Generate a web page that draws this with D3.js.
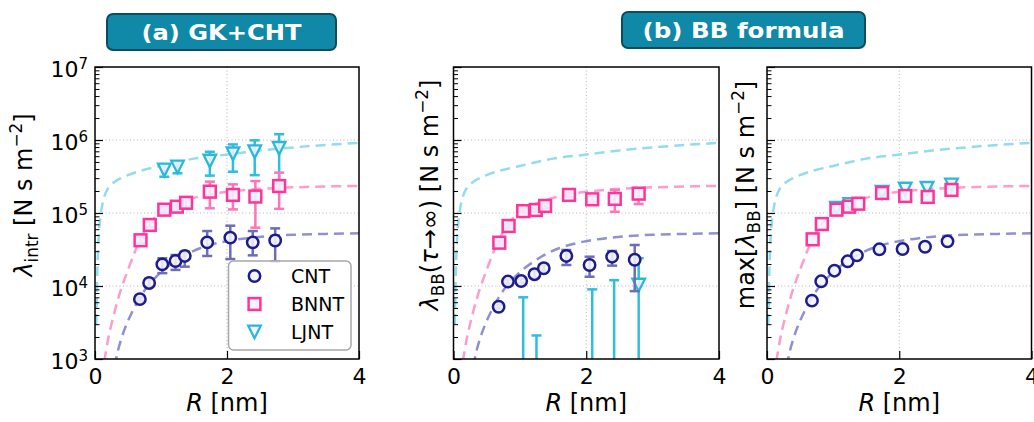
<!DOCTYPE html>
<html><head><meta charset="utf-8">
<script src="https://cdn.jsdelivr.net/npm/d3@7"></script>
<style>body{margin:0;background:#fff} svg{display:block} text{font-family:"DejaVu Sans",sans-serif}</style>
</head><body><svg id="c" width="1034" height="422"></svg>
<script>
// ---------- data ----------
const xTicks = [0, 2, 4];
const yMajor = [1e3, 1e4, 1e5, 1e6, 1e7];
const seriesNames = ["CNT", "BNNT", "LJNT"];

const radiusCNT  = [0.68, 0.82, 1.02, 1.22, 1.36, 1.70, 2.05, 2.39, 2.73];
const radiusBNNT = [0.69, 0.83, 1.05, 1.24, 1.38, 1.74, 2.09, 2.43, 2.79];
const radiusLJNT = [1.05, 1.25, 1.74, 2.09, 2.42, 2.79];

// (a) GK+CHT
const gkCNT     = [6.6e3, 1.1e4, 1.98e4, 2.2e4, 2.58e4, 3.96e4, 4.6e4, 3.96e4, 4.2e4];
const gkCNTlo   = [6.2e3, 1.0e4, 1.5e4, 1.66e4, 1.84e4, 2.58e4, 2.34e4, 2.63e4, 2.15e4];
const gkCNThi   = [7.0e3, 1.25e4, 2.4e4, 2.66e4, 2.95e4, 5.66e4, 6.7e4, 5.66e4, 6.16e4];
const gkBNNT    = [4.23e4, 6.86e4, 1.11e5, 1.22e5, 1.38e5, 1.96e5, 1.77e5, 1.68e5, 2.34e5];
const gkBNNTlo  = [3.9e4, 6.4e4, 1.0e5, 1.05e5, 1.18e5, 1.16e5, 1.12e5, 6.3e4, 1.14e5];
const gkBNNThi  = [4.6e4, 7.4e4, 1.22e5, 1.43e5, 1.62e5, 2.69e5, 2.47e5, 2.74e5, 3.57e5];
const gkLJNT    = [3.88e5, 4.27e5, 5.15e5, 6.47e5, 6.9e5, 7.7e5];
const gkLJNTlo  = [3.14e5, 3.5e5, 3.25e5, 3.68e5, 3.3e5, 2.5e5];
const gkLJNThi  = [4.64e5, 5.05e5, 6.9e5, 8.7e5, 9.9e5, 1.2e6];

// (b) BB formula, tau -> infinity
const bbCNT     = [5.2e3, 1.15e4, 1.17e4, 1.45e4, 1.75e4, 2.58e4, 1.94e4, 2.52e4, 2.29e4];
const bbCNTlo   = [4.9e3, 1.08e4, 1.1e4, 1.3e4, 1.58e4, 1.94e4, 1.34e4, 1.9e4, 8.5e3];
const bbCNThi   = [5.5e3, 1.22e4, 1.25e4, 1.62e4, 1.95e4, 3.11e4, 2.52e4, 3.01e4, 3.65e4];
const bbBNNT    = [3.92e4, 6.64e4, 1.06e5, 1.1e5, 1.25e5, 1.77e5, 1.54e5, 1.56e5, 1.84e5];
const bbBNNTlo  = [3.7e4, 6.3e4, 1.0e5, 1.04e5, 1.18e5, 1.65e5, 1.4e5, 1.04e5, 1.33e5];
const bbBNNThi  = [4.15e4, 7.0e4, 1.12e5, 1.17e5, 1.33e5, 1.9e5, 1.7e5, 2.07e5, 2.18e5];
const bbLJNT    = [3e2, 2e2, 1e2, 3e2, 4e2, 1.03e4];
const bbLJNTlo  = [1e1, 1e1, 1e1, 1e1, 1e1, 1e1];
const bbLJNThi  = [7e3, 2.1e3, 5e2, 9e3, 1.2e4, 2.4e4];

// (c) max of BB
const maxCNT    = [6.3e3, 1.16e4, 1.62e4, 2.18e4, 2.63e4, 3.18e4, 3.21e4, 3.45e4, 4.09e4];
const maxBNNT   = [4.36e4, 7.06e4, 1.11e5, 1.22e5, 1.34e5, 1.88e5, 1.71e5, 1.66e5, 2.07e5];
const maxLJNT   = [1.16e5, 1.31e5, 1.92e5, 2.13e5, 2.18e5, 2.42e5];

// fitted curves
const fitRadiusCNT = [0.30, 0.32, 0.40, 0.50, 0.60, 0.70, 0.80, 0.90, 1.00, 1.20, 1.40, 1.60, 1.80, 2.00, 2.30, 2.60, 3.00, 3.50, 4.00];
const fitCNT       = [794, 1000, 1905, 3311, 5129, 7413, 10000, 12589, 15488, 21380, 27542, 33113, 37584, 41210, 45186, 48084, 50350, 51761, 52602];
const fitRadiusBNNT = [0.14, 0.15, 0.20, 0.25, 0.30, 0.40, 0.50, 0.60, 0.70, 0.80, 0.90, 1.00, 1.20, 1.40, 1.60, 1.80, 2.00, 2.40, 2.80, 3.20, 3.60, 4.00];
const fitBNNT       = [933, 1047, 1905, 3020, 4571, 9333, 16596, 28840, 45709, 66069, 85114, 102329, 128825, 151356, 169824, 184077, 194984, 211349, 221309, 227510, 231739, 235505];
const fitRadiusLJNT = [0.020, 0.030, 0.045, 0.060, 0.080, 0.10, 0.13, 0.20, 0.30, 0.40, 0.50, 0.70, 1.00, 1.50, 2.00, 2.50, 3.00, 3.50, 4.00];
const fitLJNT       = [3000, 10000, 30000, 55000, 85000, 115000, 155000, 220000, 268000, 302000, 331000, 380000, 441000, 556000, 631000, 719000, 791000, 857000, 912000];

// ---------- drawing ----------
const svg = d3.select("#c");
const FONT = "DejaVu Sans";
const yTop = 67, yBottom = 359;
const col = {
  CNT:  {mk: "#1c1c8e", err: "#6c6cb8", fit: "#9090d2"},
  BNNT: {mk: "#ff3399", err: "#ff74b6", fit: "#ff9ccd"},
  LJNT: {mk: "#2ab8da", err: "#2fbde0", fit: "#92dcee"}
};
const fits = [
  {name: "LJNT", r: fitRadiusLJNT, v: fitLJNT},
  {name: "BNNT", r: fitRadiusBNNT, v: fitBNNT},
  {name: "CNT",  r: fitRadiusCNT,  v: fitCNT}
];

const panels = [
  {id: "a", x0: 95, x1: 359, ticksLabels: true, ylabelX: 24,
   ylabel: [["λ","i"],["intr","sub"],[" [N s m",""],["−2","sup"],["]",""]],
   series: [
     {name: "LJNT", r: radiusLJNT, v: gkLJNT, lo: gkLJNTlo, hi: gkLJNThi},
     {name: "BNNT", r: radiusBNNT, v: gkBNNT, lo: gkBNNTlo, hi: gkBNNThi},
     {name: "CNT",  r: radiusCNT,  v: gkCNT,  lo: gkCNTlo,  hi: gkCNThi}
   ], legend: true},
  {id: "b", x0: 453.5, x1: 719, ticksLabels: false, ylabelX: 430,
   ylabel: [["λ","i"],["BB","sub"],["(",""],["τ","i"],["→∞) [N s m",""],["−2","sup"],["]",""]],
   series: [
     {name: "LJNT", r: radiusLJNT, v: bbLJNT, lo: bbLJNTlo, hi: bbLJNThi},
     {name: "BNNT", r: radiusBNNT, v: bbBNNT, lo: bbBNNTlo, hi: bbBNNThi},
     {name: "CNT",  r: radiusCNT,  v: bbCNT,  lo: bbCNTlo,  hi: bbCNThi}
   ]},
  {id: "c", x0: 767, x1: 1031.5, ticksLabels: false, ylabelX: 746,
   ylabel: [["max[",""],["λ","i"],["BB","sub"],["] [N s m",""],["−2","sup"],["]",""]],
   series: [
     {name: "LJNT", r: radiusLJNT, v: maxLJNT},
     {name: "BNNT", r: radiusBNNT, v: maxBNNT},
     {name: "CNT",  r: radiusCNT,  v: maxCNT}
   ]}
];

function marker(sel, name, cx, cy) {
  const c = col[name].mk;
  const fill = "rgba(242,242,252,0.88)";
  if (name === "CNT") {
    sel.append("circle").attr("cx", cx).attr("cy", cy).attr("r", 5.7)
      .attr("fill", fill).attr("stroke", c).attr("stroke-width", 2.5);
  } else if (name === "BNNT") {
    sel.append("rect").attr("x", cx - 5.9).attr("y", cy - 5.9).attr("width", 11.8).attr("height", 11.8)
      .attr("fill", fill).attr("stroke", c).attr("stroke-width", 2.5);
  } else {
    const s = 6.3;
    sel.append("path").attr("d", `M${cx - s},${cy - s}L${cx + s},${cy - s}L${cx},${cy + s}Z`)
      .attr("fill", fill).attr("stroke", c).attr("stroke-width", 2.3).attr("stroke-linejoin", "miter");
  }
}

function richText(t, parts, size) {
  const subSz = size * 0.7;
  let shift = 0;
  parts.forEach(([s, k]) => {
    const ts = t.append("tspan").text(s);
    let target = 0;
    if (k === "sub") { target = size * 0.22; ts.attr("font-size", subSz); }
    else if (k === "sup") { target = -size * 0.42; ts.attr("font-size", subSz); }
    if (k === "i") ts.attr("font-style", "italic");
    if (target !== shift) { ts.attr("dy", target - shift); shift = target; }
  });
}

panels.forEach(p => {
  const x = d3.scaleLinear().domain([0, 4]).range([p.x0, p.x1]);
  const y = d3.scaleLog().domain([1e3, 1e7]).range([yBottom, yTop]);
  const g = svg.append("g");
  const clipId = "clip" + p.id;
  svg.append("defs").append("clipPath").attr("id", clipId)
    .append("rect").attr("x", p.x0).attr("y", yTop).attr("width", p.x1 - p.x0).attr("height", yBottom - yTop);

  // grid
  const grid = g.append("g").attr("stroke", "#b5b5b5").attr("stroke-width", 1).attr("stroke-dasharray", "1,2.5");
  grid.append("line").attr("x1", x(2)).attr("x2", x(2)).attr("y1", yTop).attr("y2", yBottom);
  [1e4, 1e5, 1e6].forEach(v => grid.append("line").attr("x1", p.x0).attr("x2", p.x1).attr("y1", y(v)).attr("y2", y(v)));

  const plot = g.append("g").attr("clip-path", `url(#${clipId})`);
  // fit curves
  const line = d3.line().x(d => x(d[0])).y(d => y(d[1])).curve(d3.curveMonotoneX);
  fits.forEach(f => {
    plot.append("path").attr("d", line(f.r.map((r, i) => [r, f.v[i]])))
      .attr("fill", "none").attr("stroke", col[f.name].fit).attr("stroke-width", 2.5)
      .attr("stroke-dasharray", "10,6");
  });

  // data
  p.series.forEach(s => {
    const sg = plot.append("g");
    if (s.lo) {
      s.r.forEach((r, i) => {
        const cx = x(r);
        const eg = sg.append("g").attr("stroke", col[s.name].err).attr("stroke-width", 2.5);
        eg.append("line").attr("x1", cx).attr("x2", cx).attr("y1", y(s.lo[i])).attr("y2", y(s.hi[i]));
        eg.append("line").attr("x1", cx - 5).attr("x2", cx + 5).attr("y1", y(s.lo[i])).attr("y2", y(s.lo[i]));
        eg.append("line").attr("x1", cx - 5).attr("x2", cx + 5).attr("y1", y(s.hi[i])).attr("y2", y(s.hi[i]));
      });
    }
    s.r.forEach((r, i) => marker(sg, s.name, x(r), y(s.v[i])));
  });

  // axes
  const minor = y.ticks().filter(v => !yMajor.includes(v));
  const axL = g.append("g").attr("transform", `translate(${p.x0},0)`)
    .call(d3.axisLeft(y).tickValues(yMajor).tickSizeInner(-8).tickSizeOuter(0).tickPadding(7)
      .tickFormat(p.ticksLabels ? (() => "10") : ""));
  axL.select(".domain").remove();
  axL.selectAll(".tick line").attr("stroke-width", 1.2);
  axL.selectAll(".tick text").attr("font-family", FONT).attr("font-size", 22).attr("fill", "#000").attr("dy", "0.45em")
    .each(function(d) {
      if (!p.ticksLabels) return;
      d3.select(this).append("tspan").attr("dy", "-0.55em").attr("font-size", 15).text(Math.round(Math.log10(d)));
    });
  const axLm = g.append("g").attr("transform", `translate(${p.x0},0)`)
    .call(d3.axisLeft(y).tickValues(minor).tickSizeInner(-4.5).tickSizeOuter(0).tickFormat(""));
  axLm.select(".domain").remove();
  axLm.selectAll(".tick line").attr("stroke-width", 1);

  const axB = g.append("g").attr("transform", `translate(0,${yBottom})`)
    .call(d3.axisBottom(x).tickValues(xTicks).tickSizeInner(-8).tickSizeOuter(0).tickPadding(9)
      .tickFormat(d3.format("d")));
  axB.select(".domain").remove();
  axB.selectAll(".tick line").attr("stroke-width", 1.2);
  axB.selectAll(".tick text").attr("font-family", FONT).attr("font-size", 22).attr("fill", "#000");

  // frame
  g.append("rect").attr("x", p.x0).attr("y", yTop).attr("width", p.x1 - p.x0).attr("height", yBottom - yTop)
    .attr("fill", "none").attr("stroke", "#000").attr("stroke-width", 1.5);

  // x label
  const xl = g.append("text").attr("x", (p.x0 + p.x1) / 2).attr("y", 411).attr("text-anchor", "middle")
    .attr("font-size", 24).attr("font-family", FONT);
  richText(xl, [["R", "i"], [" [nm]", ""]], 24);

  // y label
  const yl = g.append("text").attr("transform", `translate(${p.ylabelX},195) rotate(-90)`)
    .attr("text-anchor", "middle").attr("dy", "0.35em").attr("font-size", 24).attr("font-family", FONT);
  richText(yl, p.ylabel, 24);

  // legend
  if (p.legend) {
    const lg = g.append("g");
    lg.append("rect").attr("x", 228.5).attr("y", 261).attr("width", 122.5).attr("height", 89).attr("rx", 5)
      .attr("fill", "rgba(255,255,255,0.85)").attr("stroke", "#a8a8a8").attr("stroke-width", 1.5);
    ["CNT", "BNNT", "LJNT"].forEach((n, i) => {
      const yy = 276 + i * 28;
      marker(lg, n, 254.5, yy);
      lg.append("text").attr("x", 291).attr("y", yy).attr("dy", "0.36em").attr("font-size", 19)
        .attr("font-family", FONT).text(seriesNames[i]);
    });
  }
});

// title boxes
const titles = [
  {text: "(a) GK+CHT", x: 107, y: 14, w: 229, h: 36, len: 160},
  {text: "(b) BB formula", x: 622, y: 12, w: 243, h: 36, len: 202}
];
titles.forEach(t => {
  svg.append("rect").attr("x", t.x).attr("y", t.y).attr("width", t.w).attr("height", t.h).attr("rx", 6)
    .attr("fill", "#1089a8").attr("stroke", "#0b4d5e").attr("stroke-width", 2);
  svg.append("text").attr("x", t.x + t.w / 2).attr("y", t.y + t.h / 2).attr("dy", "0.36em")
    .attr("text-anchor", "middle").attr("font-family", FONT).attr("font-weight", "bold")
    .attr("font-size", 22).attr("fill", "#fff")
    .attr("textLength", t.len).attr("lengthAdjust", "spacingAndGlyphs").text(t.text);
});
</script></body></html>
